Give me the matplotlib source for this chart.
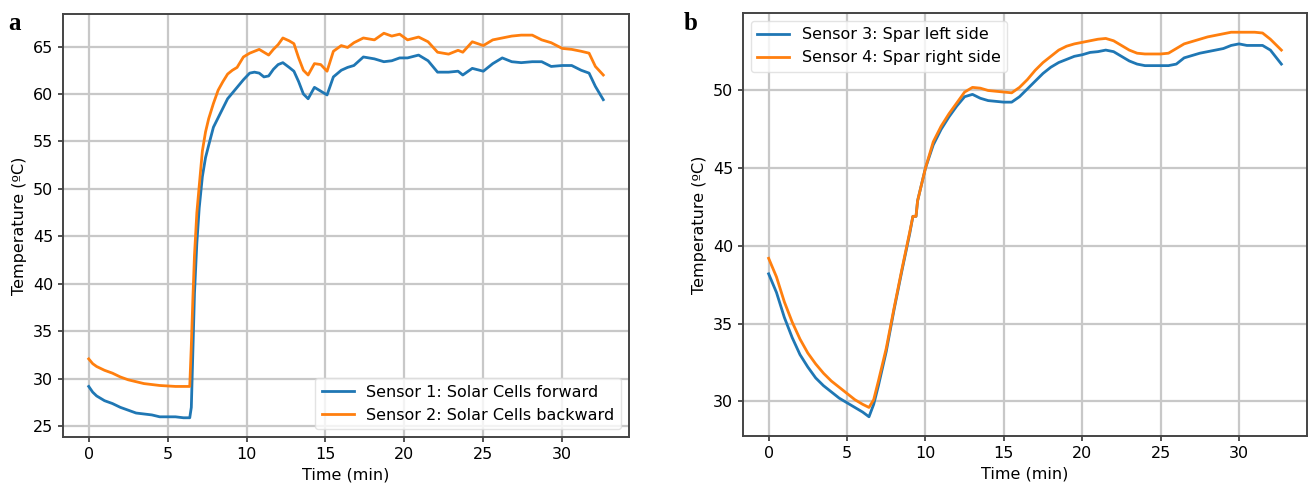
import matplotlib
matplotlib.use('Agg')
from matplotlib import pyplot as plt

# panel a: solar cell sensors
t_a = [0, 0.25, 0.5, 1, 1.5, 2, 2.5, 3, 3.5, 4, 4.5, 5, 5.5, 6, 6.4, 6.5,
       6.6, 6.7, 6.85, 7.0, 7.2, 7.4, 7.6, 7.9, 8.2, 8.5, 8.8, 9.1, 9.4, 9.8,
       10.2, 10.5, 10.8, 11.1, 11.4, 11.7, 12.0, 12.3, 12.7, 13.0, 13.3, 13.6,
       13.9, 14.3, 14.7, 15.1, 15.5, 16.0, 16.4, 16.8, 17.4, 18.1, 18.7, 19.2,
       19.7, 20.2, 20.9, 21.5, 22.1, 22.8, 23.4, 23.7, 24.3, 25.0, 25.6, 26.2,
       26.8, 27.4, 28.1, 28.7, 29.3, 30.0, 30.6, 31.2, 31.7, 32.1, 32.6]
sensor1 = [29.2, 28.6, 28.2, 27.7, 27.4, 27.0, 26.7, 26.4, 26.3, 26.2, 26.0, 26.0,
           26.0, 25.9, 25.9, 27.0, 33.0, 39.0, 44.3, 48.0, 51.3, 53.3, 54.6, 56.5,
           57.5, 58.5, 59.5, 60.1, 60.7, 61.5, 62.2, 62.3, 62.2, 61.8, 61.9, 62.6,
           63.1, 63.3, 62.8, 62.4, 61.3, 60.0, 59.5, 60.7, 60.3, 59.9, 61.8, 62.5,
           62.8, 63.0, 63.9, 63.7, 63.4, 63.5, 63.8, 63.8, 64.1, 63.5, 62.3, 62.3,
           62.4, 62.0, 62.7, 62.4, 63.2, 63.8, 63.4, 63.3, 63.4, 63.4, 62.9, 63.0,
           63.0, 62.5, 62.2, 60.8, 59.4]
sensor2 = [32.1, 31.6, 31.3, 30.9, 30.6, 30.2, 29.9, 29.7, 29.5, 29.4, 29.3, 29.25,
           29.2, 29.2, 29.2, 33.5, 38.5, 43.0, 47.5, 50.3, 54.0, 56.0, 57.4, 59.0,
           60.4, 61.3, 62.1, 62.5, 62.8, 63.9, 64.3, 64.5, 64.7, 64.4, 64.1, 64.7,
           65.2, 65.9, 65.6, 65.3, 63.8, 62.5, 62.0, 63.2, 63.1, 62.4, 64.5, 65.1,
           64.9, 65.4, 65.9, 65.7, 66.4, 66.1, 66.3, 65.7, 66.0, 65.5, 64.4, 64.2,
           64.6, 64.4, 65.5, 65.1, 65.7, 65.9, 66.1, 66.2, 66.2, 65.7, 65.4, 64.8,
           64.7, 64.5, 64.3, 62.9, 62.0]

# panel b: spar sensors
t_b = [0, 0.5, 1, 1.5, 2, 2.5, 3, 3.5, 4, 4.5, 5, 5.5, 6, 6.4, 6.7, 7.0, 7.5,
       8.0, 8.5, 9.0, 9.2, 9.4, 9.5, 10, 10.5, 11, 11.5, 12, 12.5, 13, 13.5, 14,
       14.5, 15, 15.5, 16, 16.5, 17, 17.5, 18, 18.5, 19, 19.5, 20, 20.5, 21, 21.5,
       22, 22.5, 23, 23.5, 24, 24.5, 25, 25.5, 26, 26.5, 27, 27.5, 28, 28.5, 29,
       29.5, 30, 30.5, 31, 31.5, 32, 32.7]
sensor3 = [38.2, 37.0, 35.4, 34.1, 33.0, 32.2, 31.5, 31.0, 30.6, 30.2, 29.9, 29.6,
           29.3, 29.0, 29.8, 31.0, 33.2, 35.9, 38.4, 40.8, 41.9, 41.9, 42.9, 45.0,
           46.5, 47.5, 48.3, 49.0, 49.6, 49.75, 49.5, 49.35, 49.3, 49.25, 49.25,
           49.6, 50.1, 50.6, 51.1, 51.5, 51.8, 52.0, 52.2, 52.3, 52.45, 52.5, 52.6,
           52.5, 52.2, 51.9, 51.7, 51.6, 51.6, 51.6, 51.6, 51.7, 52.1, 52.25, 52.4,
           52.5, 52.6, 52.7, 52.9, 53.0, 52.9, 52.9, 52.9, 52.6, 51.7]
sensor4 = [39.2, 38.0, 36.4, 35.1, 34.0, 33.1, 32.4, 31.8, 31.3, 30.9, 30.5, 30.1,
           29.8, 29.6, 30.1, 31.3, 33.4, 36.0, 38.5, 40.9, 41.9, 41.9, 42.9, 45.0,
           46.7, 47.7, 48.5, 49.2, 49.9, 50.2, 50.15, 50.0, 49.95, 49.9, 49.85,
           50.2, 50.7, 51.3, 51.8, 52.2, 52.6, 52.85, 53.0, 53.1, 53.2, 53.3, 53.35,
           53.2, 52.9, 52.6, 52.4, 52.35, 52.35, 52.35, 52.4, 52.7, 53.0, 53.15, 53.3,
           53.45, 53.55, 53.65, 53.75, 53.75, 53.75, 53.75, 53.7, 53.3, 52.6]

W, H = 1309, 486
fs = 11.5
fig = plt.figure(figsize=(W / 100, H / 100), dpi=100)

ax1 = fig.add_axes([63 / W, 1 - 437 / H, (629 - 63) / W, (437 - 14) / H])
ax2 = fig.add_axes([743 / W, 1 - 436 / H, (1307 - 743) / W, (436 - 13) / H])

ax1.plot(t_a, sensor1, color='#1f77b4', lw=2, label='Sensor 1: Solar Cells forward')
ax1.plot(t_a, sensor2, color='#ff7f0e', lw=2, label='Sensor 2: Solar Cells backward')
ax2.plot(t_b, sensor3, color='#1f77b4', lw=2, label='Sensor 3: Spar left side')
ax2.plot(t_b, sensor4, color='#ff7f0e', lw=2, label='Sensor 4: Spar right side')

ax1.set_yticks([25, 30, 35, 40, 45, 50, 55, 60, 65])
ax2.set_yticks([30, 35, 40, 45, 50])

for ax, loc in [(ax1, 'lower right'), (ax2, 'upper left')]:
    ax.set_xticks([0, 5, 10, 15, 20, 25, 30])
    ax.grid(True, color='#c8c8c8', lw=1.6)
    ax.set_axisbelow(True)
    ax.tick_params(labelsize=fs, color='#333333', width=1.2)
    ax.set_xlabel('Time (min)', fontsize=fs)
    ax.set_ylabel('Temperature (ºC)', fontsize=fs)
    for s in ax.spines.values():
        s.set_color('#444444')
        s.set_linewidth(1.4)
    ax.legend(loc=loc, fontsize=fs, framealpha=0.8, edgecolor='#dddddd')

fig.text(8 / W, 1 - 30 / H, 'a', fontsize=18, fontweight='bold', family='Liberation Serif')
fig.text(684 / W, 1 - 30 / H, 'b', fontsize=18, fontweight='bold', family='Liberation Serif')

fig.savefig('out.png', dpi=100)
